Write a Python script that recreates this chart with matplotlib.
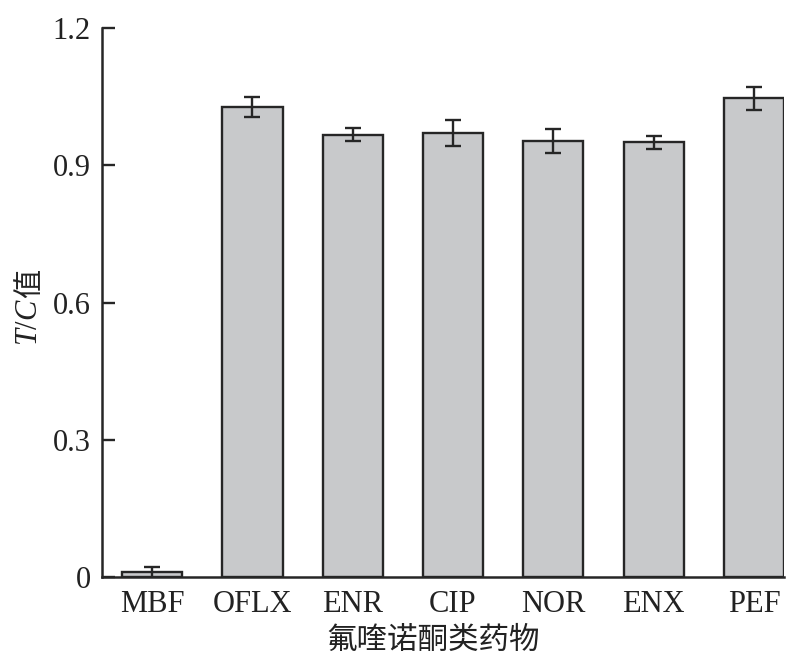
import matplotlib
matplotlib.use("Agg")
import matplotlib.pyplot as plt

categories = ["MBF", "OFLX", "ENR", "CIP", "NOR", "ENX", "PEF"]
values = [0.010, 1.027, 0.967, 0.970, 0.953, 0.950, 1.046]
errors = [0.012, 0.022, 0.015, 0.029, 0.026, 0.015, 0.025]
yticks = [0, 0.3, 0.6, 0.9, 1.2]
ytick_labels = ["0", "0.3", "0.6", "0.9", "1.2"]

plt.rcParams['font.family'] = ['Liberation Serif', 'Noto Sans CJK SC']
plt.rcParams['mathtext.fontset'] = 'custom'
plt.rcParams['mathtext.rm'] = 'Liberation Serif'
plt.rcParams['mathtext.it'] = 'Liberation Serif:italic'

fig = plt.figure(figsize=(8.04, 6.60), dpi=100)
ax = fig.add_axes([102/804, (660-577)/660, (784-102)/804, (577-28)/660])

x = list(range(len(categories)))
ax.bar(x, values, width=0.6, color="#c8c9cb", edgecolor="#262626", linewidth=1.7, zorder=2)
ax.errorbar(x, values, yerr=errors, fmt="none", ecolor="#262626", elinewidth=1.7,
            capsize=6, capthick=1.7, zorder=3)

ax.set_xlim(-0.5, 6.3)
ax.set_ylim(0, 1.2)
ax.set_yticks(yticks)
ax.set_yticklabels(ytick_labels)
ax.set_xticks(x)
ax.set_xticklabels(categories)

for s in ["top", "right"]:
    ax.spines[s].set_visible(False)
for s in ["left", "bottom"]:
    ax.spines[s].set_linewidth(1.8)
    ax.spines[s].set_color("#262626")

ax.tick_params(axis="y", direction="in", length=9, width=1.7, color="#262626",
               labelsize=22, pad=8, labelcolor="#222222")
ax.tick_params(axis="x", length=0, labelsize=22, pad=9, labelcolor="#222222")

# y label: italic T/C followed by 值
t1 = ax.text(-0.106, 0.464, r"$T/C$", transform=ax.transAxes, rotation=90,
             ha="center", va="center", fontsize=22, color="#222222")
ax.annotate("值", xy=(0.5, 1.0), xycoords=t1, rotation=90, ha="center", va="bottom",
            fontsize=21, color="#222222", family=["Noto Sans CJK SC"])

ax.set_xlabel("氟喹诺酮类药物", fontsize=22, color="#222222")
ax.xaxis.label.set_va("center")
ax.xaxis.set_label_coords(0.486, -0.118)

fig.savefig("out.png", dpi=100)
